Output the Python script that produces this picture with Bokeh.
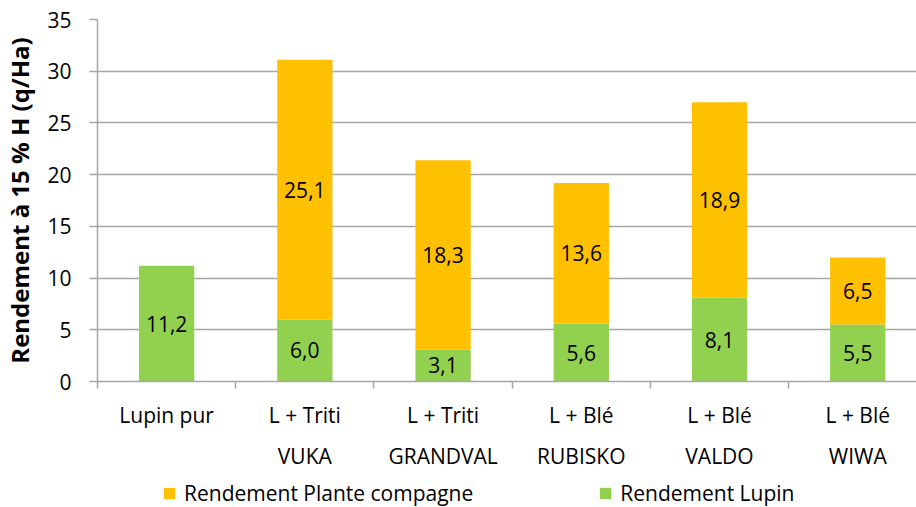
from bokeh.plotting import figure
from bokeh.layouts import column
from bokeh.models import (ColumnDataSource, Range1d, FixedTicker, Legend, LegendItem,
                          LinearAxis)
from bokeh.core.properties import value
from bokeh.embed import file_html
from bokeh.resources import INLINE

categories = ["Lupin pur", "L + Triti\nVUKA", "L + Triti\nGRANDVAL",
              "L + Blé\nRUBISKO", "L + Blé\nVALDO", "L + Blé\nWIWA"]
rendement_lupin = [11.2, 6.0, 3.1, 5.6, 8.1, 5.5]
rendement_compagne = [0.0, 25.1, 18.3, 13.6, 18.9, 6.5]
y_ticks = [0, 5, 10, 15, 20, 25, 30, 35]
series_names = ["Rendement Plante compagne", "Rendement Lupin"]

FONT = "Open Sans"
ORANGE = "#FFC000"
GREEN = "#92D050"
GRID = "#A6A6A6"

n = len(categories)
xs = [i + 0.5 for i in range(n)]
totals = [a + b for a, b in zip(rendement_lupin, rendement_compagne)]
line1 = [c.split("\n")[0] for c in categories]
line2 = [c.split("\n")[1] if "\n" in c else "" for c in categories]

def fmt(v):
    return ("%.1f" % v).replace(".", ",")

src = ColumnDataSource(dict(
    x=xs, lupin=rendement_lupin, comp=rendement_compagne, total=totals,
    lupin_mid=[v / 2 for v in rendement_lupin],
    comp_mid=[a + b / 2 for a, b in zip(rendement_lupin, rendement_compagne)],
    lupin_lbl=[fmt(v) for v in rendement_lupin],
    comp_lbl=[fmt(v) if v > 0 else "" for v in rendement_compagne],
))

p = figure(width=916, height=472, output_backend="svg", toolbar_location=None,
           x_range=Range1d(0, 5.925), y_range=Range1d(0, 35),
           min_border_left=96, min_border_right=0, min_border_top=19,
           min_border_bottom=90)
p.outline_line_color = None
p.background_fill_color = "white"

p.vbar(x="x", top="lupin", bottom=0, width=0.4, source=src,
       fill_color=GREEN, line_color=None)
p.vbar(x="x", top="total", bottom="lupin", width=0.4, source=src,
       fill_color=ORANGE, line_color=None)

for col_y, col_t in (("lupin_mid", "lupin_lbl"), ("comp_mid", "comp_lbl")):
    p.text(x="x", y=col_y, text=col_t, source=src, text_align="center",
           text_baseline="middle", text_font=value(FONT), text_font_size="21px",
           text_color="black")

# y axis
p.yaxis.ticker = FixedTicker(ticks=y_ticks)
p.yaxis.axis_line_color = GRID
p.yaxis.axis_line_width = 1.5
p.yaxis.major_tick_line_color = GRID
p.yaxis.major_tick_line_width = 1.5
p.yaxis.major_tick_in = 0
p.yaxis.major_tick_out = 8
p.yaxis.minor_tick_line_color = None
p.yaxis.major_label_standoff = 18
p.yaxis.major_label_text_font = FONT
p.yaxis.major_label_text_font_size = "21px"
p.yaxis.major_label_text_color = "black"
p.yaxis.axis_label = "Rendement à 15 % H (q/Ha)"
p.yaxis.axis_label_text_font = FONT
p.yaxis.axis_label_text_font_style = "bold"
p.yaxis.axis_label_text_font_size = "24px"
p.yaxis.axis_label_text_color = "black"
p.yaxis.axis_label_standoff = 8

# x axis: first label line
p.xaxis.ticker = FixedTicker(ticks=xs, minor_ticks=list(range(n + 1)))
p.xaxis.major_label_overrides = {x: c for x, c in zip(xs, line1)}
p.xaxis.axis_line_color = GRID
p.xaxis.axis_line_width = 1.5
p.xaxis.major_tick_line_color = None
p.xaxis.minor_tick_line_color = GRID
p.xaxis.minor_tick_line_width = 1.5
p.xaxis.minor_tick_in = 0
p.xaxis.minor_tick_out = 7
p.xaxis.major_label_standoff = 12
p.xaxis.major_label_text_font = FONT
p.xaxis.major_label_text_font_size = "21px"
p.xaxis.major_label_text_color = "black"

# x axis: second label line
ax2 = LinearAxis(ticker=FixedTicker(ticks=xs),
                 major_label_overrides={x: c for x, c in zip(xs, line2)},
                 axis_line_color=None, major_tick_line_color=None,
                 minor_tick_line_color=None, major_label_standoff=4,
                 major_label_text_font=FONT, major_label_text_font_size="21px",
                 major_label_text_color="black")
p.add_layout(ax2, "below")

p.xgrid.grid_line_color = None
p.ygrid.ticker = FixedTicker(ticks=y_ticks)
p.ygrid.grid_line_color = GRID
p.ygrid.grid_line_width = 1.5

# legend strip (its renderers use the real data, kept outside the strip's view)
q = figure(width=916, height=35, output_backend="svg", toolbar_location=None,
           x_range=Range1d(-3, -2), y_range=Range1d(0, 1), min_border=0)
q.outline_line_color = None
q.axis.visible = False
q.grid.grid_line_color = None
r_o = q.vbar(x="x", top="total", bottom="lupin", width=0.4, source=src,
             fill_color=ORANGE, line_color=None)
r_g = q.vbar(x="x", top="lupin", bottom=0, width=0.4, source=src,
             fill_color=GREEN, line_color=None)
legend = Legend(items=[LegendItem(label=series_names[0], renderers=[r_o]),
                       LegendItem(label=series_names[1], renderers=[r_g])],
                orientation="horizontal", location=(65, 0),
                label_text_font=FONT, label_text_font_size="21px",
                label_text_color="black", glyph_width=14, glyph_height=14,
                label_standoff=8, spacing=125, padding=0, margin=0,
                border_line_color=None, background_fill_alpha=0)
q.add_layout(legend, "center")

open("out.html", "w").write(file_html(column(p, q, spacing=0), INLINE))
